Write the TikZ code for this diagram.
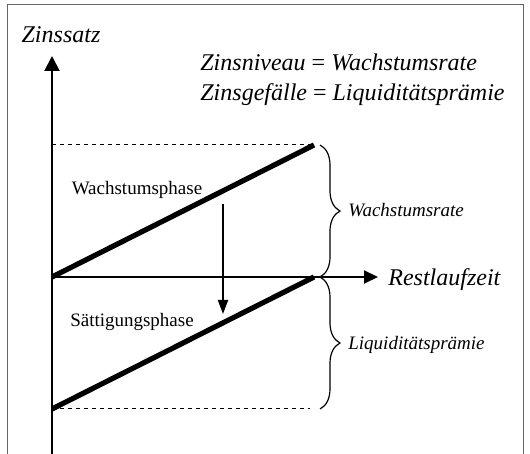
\documentclass[tikz,border=0pt]{standalone}
\usepackage{fontspec}
\setmainfont{Liberation Serif}
\usetikzlibrary{arrows.meta,decorations.pathreplacing}
\tikzset{
  achse/.style={line width=1pt},
  kurve/.style={line width=2.6pt},
  niveau/.style={line width=0.5pt,dash pattern=on 2pt off 2pt},
  klammer/.style={line width=0.6pt,decorate,decoration={brace,amplitude=10pt}},
  gross/.style={font=\fontsize{12}{14}\selectfont\itshape,inner sep=0pt},
  klein/.style={font=\fontsize{9.5}{11}\selectfont,inner sep=0pt},
  kleinkursiv/.style={font=\fontsize{9.5}{11}\selectfont\itshape,inner sep=0pt}
}
\begin{document}
\begin{tikzpicture}[x=0.5pt,y=0.5pt]
                        \useasboundingbox (-52,-177) rectangle (478,277);
                        % Rahmen
                        \draw [black!60,line width=0.5pt] (-44,-180)--(-44,272)--(471,272)--(471,-180);

                        \coordinate (O) at (0,0);
                        \coordinate (ytop) at (0,221);
                        \coordinate (ybot) at (0,-180);
                        \coordinate (xend) at (326,0);
                        \coordinate (A) at (0,132);
                        \coordinate (B) at (262,132);
                        \coordinate (C) at (0,-132);
                        \coordinate (D) at (262,0);
                        \coordinate (pfeilA) at (171,73);
                        \coordinate (pfeilB) at (171,-37);

                        \draw [achse,-{Triangle[length=7.5pt,width=7.5pt]}] (ybot)--(ytop);
                        \draw [achse,-{Triangle[length=7pt,width=6.5pt]}] (O)--(xend);
                        \draw [niveau] (A)--(258,132);
                        \draw [niveau] (C)--(258,-132);
                        \draw [kurve] (O)--(B);
                        \draw [kurve] (C)--(D);
                        \draw [achse,-{Triangle[length=7pt,width=5pt]}] (pfeilA)--(pfeilB);

                        \draw [klammer] (268,132)--(268,0);
                        \draw [klammer] (268,0)--(268,-132);

                        \node [gross] (zins) at (9,242) {Zinssatz};
                        \node [gross,anchor=west] (rest) at (336,-3) {Restlaufzeit};
                        \node [gross,anchor=west] (niv) at (148,215) {Zinsniveau \upshape=\itshape{} Wachstumsrate};
                        \node [gross,anchor=west] (gef) at (148,182) {Zinsgefälle \upshape=\itshape{} Liquiditätsprämie};
                        \node [klein] (wp) at (85,87) {Wachstumsphase};
                        \node [klein] (sp) at (80,-45) {Sättigungsphase};
                        \node [kleinkursiv,anchor=west] (wr) at (296,67) {Wachstumsrate};
                        \node [kleinkursiv,anchor=west] (lp) at (296,-68) {Liquiditätsprämie};
                    \end{tikzpicture}
\end{document}
